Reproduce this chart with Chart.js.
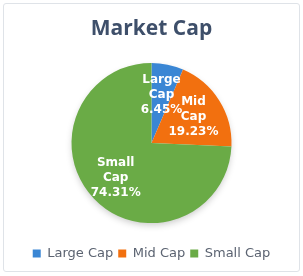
<!DOCTYPE html>
<html>
<head>
<meta charset="utf-8">
<script src="https://cdn.jsdelivr.net/npm/chart.js@4"></script>
<style>
  html, body { margin: 0; padding: 0; background: #fff; }
  body { width: 303px; height: 276px; position: relative; overflow: hidden; }
  .card {
    position: absolute; left: 3px; top: 3px; width: 295px; height: 267px;
    border: 1px solid #dfe3e8; border-radius: 3px; background: #fff;
  }
  .card canvas { position: absolute; left: 0; top: 0; }
</style>
</head>
<body>
<div class="card">
  <canvas id="market-cap" width="295" height="267"></canvas>
</div>
<script>
// Chart data
const categories = ['Large Cap', 'Mid Cap', 'Small Cap'];
const shares = [6.45, 19.23, 74.31];
const sliceColors = ['#3a86d4', '#f2700f', '#6aab46'];
const sliceShades = ['#2c6fb8', '#cf5a08', '#62a040'];

// radial gradient: darker near the centre, base colour at the rim
function sliceFill(context) {
    const i = context.dataIndex;
    const arc = context.element;
    if (!arc || !arc.outerRadius) return sliceColors[i];
    const g = context.chart.ctx.createRadialGradient(arc.x, arc.y, 0, arc.x, arc.y, arc.outerRadius);
    g.addColorStop(0, sliceShades[i]);
    g.addColorStop(1, sliceColors[i]);
    return g;
}

// soft shadow under the pie
const pieShadow = {
    id: 'pieShadow',
    beforeDatasetsDraw(chart) {
        const arc = chart.getDatasetMeta(0).data[0];
        if (!arc) return;
        const ctx = chart.ctx;
        ctx.save();
        ctx.shadowColor = 'rgba(0,0,0,0.22)';
        ctx.shadowBlur = 7;
        ctx.shadowOffsetY = 3;
        ctx.fillStyle = '#fff';
        ctx.beginPath();
        ctx.arc(arc.x, arc.y, arc.outerRadius - 1, 0, Math.PI * 2);
        ctx.fill();
        ctx.restore();
    }
};

// white labels inside each slice
const sliceLabels = {
    id: 'sliceLabels',
    afterDatasetsDraw(chart) {
        const ctx = chart.ctx;
        const meta = chart.getDatasetMeta(0);
        ctx.save();
        ctx.font = 'bold 12px "DejaVu Sans"';
        ctx.fillStyle = '#fff';
        ctx.textAlign = 'center';
        ctx.textBaseline = 'middle';
        meta.data.forEach((arc, i) => {
            const mid = (arc.startAngle + arc.endAngle) / 2;
            const r = arc.outerRadius * 0.62;
            const x = arc.x + Math.cos(mid) * r;
            const y = arc.y + Math.sin(mid) * r;
            const words = categories[i].split(' ');
            const lines = [words[0], words[1], shares[i].toFixed(2) + '%'];
            lines.forEach((t, k) => {
                ctx.fillText(t, x, y + (k - 1) * 15);
            });
        });
        ctx.restore();
    }
};

new Chart(document.getElementById('market-cap'), {
    type: 'pie',
    data: {
        labels: categories,
        datasets: [{
            data: shares,
            backgroundColor: sliceFill,
            borderWidth: 0,
            radius: 80
        }]
    },
    options: {
        responsive: false,
        animation: false,
        layout: { padding: { left: 0, right: 0, top: 0, bottom: 1 } },
        plugins: {
            title: {
                display: true,
                text: 'Market Cap',
                color: '#3e4f6a',
                font: { family: '"Open Sans"', size: 21, weight: 'bold' },
                padding: { top: 12, bottom: 3 }
            },
            legend: {
                position: 'bottom',
                labels: {
                    color: '#5b6371',
                    font: { family: '"DejaVu Sans"', size: 13 },
                    boxWidth: 8,
                    boxHeight: 8,
                    padding: 5,
                    generateLabels(chart) {
                        return categories.map((c, i) => ({
                            text: c,
                            fillStyle: sliceColors[i],
                            strokeStyle: sliceColors[i],
                            lineWidth: 0,
                            fontColor: '#5b6371',
                            index: i
                        }));
                    }
                }
            },
            tooltip: { enabled: false }
        }
    },
    plugins: [pieShadow, sliceLabels]
});
</script>
</body>
</html>
